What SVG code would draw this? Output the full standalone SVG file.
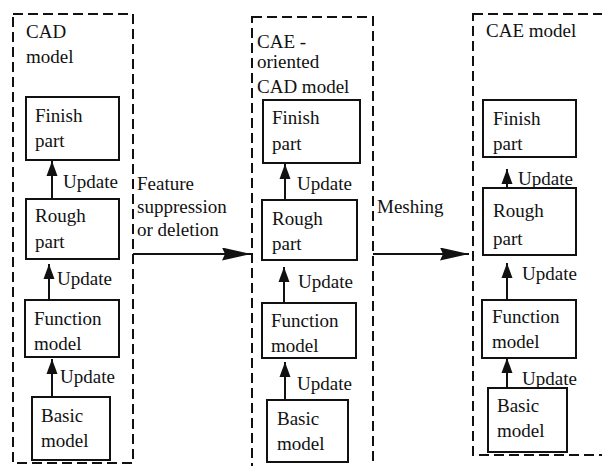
<svg xmlns="http://www.w3.org/2000/svg" width="602" height="466" viewBox="0 0 602 466">
<style>
.c{fill:none;stroke:#111;stroke-width:2;stroke-dasharray:10 5}
.b{fill:#fff;stroke:#111;stroke-width:2}
text{font-family:"Liberation Serif","Times New Roman",serif;font-size:19px;fill:#111}
.l{stroke:#111;stroke-width:2;fill:none}
</style>
<defs>
<marker id="ah" markerWidth="11" markerHeight="15" refX="5.5" refY="0" orient="0" markerUnits="userSpaceOnUse" viewBox="0 0 11 15" overflow="visible">
<path d="M0,15 L5.5,0 L11,15 Z" fill="#111"/>
</marker>
<marker id="bh" markerWidth="29" markerHeight="13" refX="29" refY="6.5" orient="auto" markerUnits="userSpaceOnUse" viewBox="0 0 29 13">
<path d="M0,0 L29,6.5 L0,13 L3,6.5 Z" fill="#111"/>
</marker>
</defs>

<g id="cad-model">
<rect class="c" x="13" y="14" width="120" height="449"/>
<text x="26" y="38">CAD</text>
<text x="26" y="63">model</text>
</g>
<g id="cad-finish"><rect class="b" x="26" y="97" width="93" height="63"/><text x="35" y="122">Finish</text><text x="35" y="147">part</text></g>
<g id="cad-rough"><rect class="b" x="26" y="199" width="93" height="60"/><text x="35" y="222">Rough</text><text x="35" y="248">part</text></g>
<g id="cad-function"><rect class="b" x="25" y="300" width="94" height="57"/><text x="34" y="325">Function</text><text x="34" y="350">model</text></g>
<g id="cad-basic"><rect class="b" x="32" y="397" width="78" height="63"/><text x="41" y="422">Basic</text><text x="41" y="447">model</text></g>

<g id="cae-oriented">
<rect class="c" x="252" y="17" width="121" height="452"/>
<text x="257" y="48">CAE -</text>
<text x="257" y="68">oriented</text>
<text x="257" y="93">CAD model</text>
</g>
<g id="ori-finish"><rect class="b" x="263" y="100" width="97" height="63"/><text x="272" y="124">Finish</text><text x="272" y="150">part</text></g>
<g id="ori-rough"><rect class="b" x="262" y="200" width="95" height="60"/><text x="272" y="225">Rough</text><text x="272" y="250">part</text></g>
<g id="ori-function"><rect class="b" x="262" y="303" width="94" height="55"/><text x="271" y="327">Function</text><text x="271" y="352">model</text></g>
<g id="ori-basic"><rect class="b" x="267" y="400" width="81" height="62"/><text x="277" y="425">Basic</text><text x="277" y="450">model</text></g>

<g id="cae-model">
<rect class="c" x="473" y="14" width="140" height="441"/>
<text x="486" y="37">CAE model</text>
</g>
<g id="cae-finish"><rect class="b" x="483" y="100" width="93" height="57"/><text x="493" y="125">Finish</text><text x="493" y="150">part</text></g>
<g id="cae-rough"><rect class="b" x="483" y="188" width="93" height="67"/><text x="493" y="217">Rough</text><text x="493" y="245">part</text></g>
<g id="cae-function"><rect class="b" x="482" y="300" width="94" height="58"/><text x="492" y="323">Function</text><text x="492" y="348">model</text></g>
<g id="cae-basic"><rect class="b" x="488" y="388" width="79" height="64"/><text x="497" y="412">Basic</text><text x="497" y="437">model</text></g>

<g id="connectors">
<line class="l" x1="52" y1="199" x2="52" y2="161" marker-end="url(#ah)"/>
<text x="63" y="188">Update</text>
<line class="l" x1="49" y1="300" x2="49" y2="264" marker-end="url(#ah)"/>
<text x="57" y="285">Update</text>
<line class="l" x1="52" y1="397" x2="52" y2="359" marker-end="url(#ah)"/>
<text x="60" y="383">Update</text>

<line class="l" x1="285" y1="200" x2="285" y2="164" marker-end="url(#ah)"/>
<text x="297" y="190">Update</text>
<line class="l" x1="284" y1="303" x2="284" y2="267" marker-end="url(#ah)"/>
<text x="298" y="288">Update</text>
<line class="l" x1="285" y1="400" x2="285" y2="362" marker-end="url(#ah)"/>
<text x="297" y="390">Update</text>

<line class="l" x1="507" y1="188" x2="507" y2="169" marker-end="url(#ah)"/>
<text x="518" y="185">Update</text>
<line class="l" x1="507" y1="300" x2="507" y2="263" marker-end="url(#ah)"/>
<text x="522" y="280">Update</text>
<line class="l" x1="507" y1="388" x2="507" y2="358" marker-end="url(#ah)"/>
<text x="522" y="385">Update</text>

<line class="l" x1="133" y1="254" x2="251" y2="254" marker-end="url(#bh)"/>
<text x="137" y="190">Feature</text>
<text x="137" y="213">suppression</text>
<text x="137" y="236">or deletion</text>

<line class="l" x1="373" y1="254" x2="469" y2="254" marker-end="url(#bh)"/>
<text x="377" y="213">Meshing</text>
</g>
</svg>
